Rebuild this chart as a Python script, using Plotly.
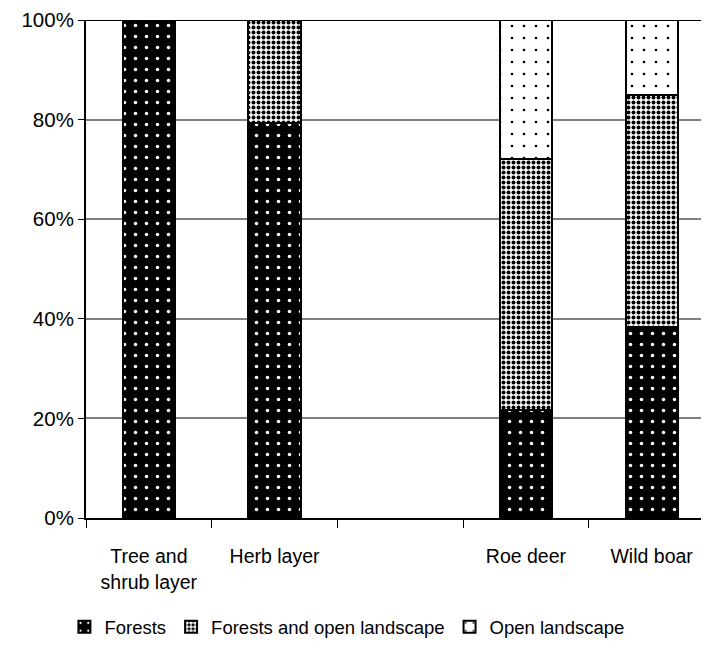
import plotly.graph_objects as go

categories = ["Tree and<br>shrub layer", "Herb layer", " ", "Roe deer", "Wild boar"]
forests = [100, 79.4, None, 21.6, 38.4]
forests_open = [0, 20.6, None, 50.4, 46.6]
open_land = [0, 0, None, 28.0, 15.0]
y_ticks = [0, 20, 40, 60, 80, 100]
y_labels = ["0%", "20%", "40%", "60%", "80%", "100%"]

FONT = "Liberation Sans, Arial, sans-serif"

fig = go.Figure()
fig.add_trace(go.Bar(
    name="Forests", x=categories, y=forests,
    marker=dict(color="black", line=dict(color="black", width=2),
                pattern=dict(shape=".", fgcolor="white", bgcolor="black",
                             size=11, solidity=0.08, fillmode="replace")),
))
fig.add_trace(go.Bar(
    name="Forests and open landscape", x=categories, y=forests_open,
    marker=dict(color="white", line=dict(color="black", width=2),
                pattern=dict(shape=".", fgcolor="black", bgcolor="white",
                             size=5, solidity=0.5, fillmode="replace")),
))
fig.add_trace(go.Bar(
    name="Open landscape", x=categories, y=open_land,
    marker=dict(color="white", line=dict(color="black", width=2),
                pattern=dict(shape=".", fgcolor="black", bgcolor="white",
                             size=12, solidity=0.04, fillmode="replace")),
))

fig.update_layout(
    barmode="stack",
    bargap=0.585,
    width=709, height=663,
    margin=dict(l=78, r=0, t=10, b=153),
    paper_bgcolor="white", plot_bgcolor="white",
    font=dict(family=FONT, size=19.5, color="black"),
    showlegend=True,
    legend=dict(orientation="h", xref="container", yref="container",
                x=0.478, xanchor="center", y=0.066, yanchor="middle",
                font=dict(size=18.5), itemwidth=30, traceorder="normal"),
    xaxis=dict(
        type="category", categoryorder="array", categoryarray=categories,
        range=[-0.5, 4.52],
        showline=True, linecolor="black", linewidth=2,
        ticks="outside", tickson="boundaries", ticklen=8, tickwidth=1, tickcolor="black",
        showgrid=False, ticklabelstandoff=20,
        tickfont=dict(size=19.5),
    ),
    yaxis=dict(
        range=[0, 100], tickvals=y_ticks, ticktext=y_labels,
        showline=True, linecolor="black", linewidth=2,
        ticks="outside", ticklen=6, tickwidth=1, tickcolor="black",
        showgrid=True, gridcolor="#808080", gridwidth=2,
        zeroline=False, tickfont=dict(size=20.5),
        ticklabeloverflow="allow",
    ),
    shapes=[dict(type="line", xref="paper", yref="y", x0=0, x1=1, y0=100, y1=100,
                 line=dict(color="black", width=2), layer="below")],
)

fig.write_html("out.html")
